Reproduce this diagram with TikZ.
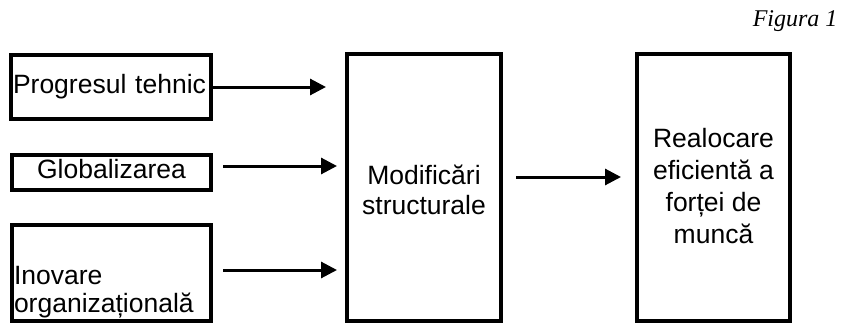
\documentclass[tikz,border=0pt]{standalone}
\usepackage{fontspec}
\setmainfont{Liberation Sans}
\newfontfamily\figfont{Liberation Serif}
\usetikzlibrary{arrows.meta,positioning}

\begin{document}
\begin{tikzpicture}[x=1pt,y=-1pt,
    box/.style={draw,line width=4pt,rectangle,inner sep=2pt},
    arr/.style={line width=3pt,-{Triangle[length=16pt,width=16pt]}},
    font=\fontsize{26.5}{30}\selectfont]
   \useasboundingbox (0,0) rectangle (848,324);
   \node[anchor=base east,font=\figfont\itshape\fontsize{24}{26}\selectfont] (fig) at (841,27) {Figura 1};
   % left column
   \node[box,minimum width=200pt,minimum height=64pt,text width=196pt,align=left,text height=19pt,text depth=7pt] (prog) at (111,87) {Progresul tehnic};
   \node[box,minimum width=199pt,minimum height=35pt,text height=19pt,text depth=8pt] (glob) at (111.5,172.5) {Globalizarea};
   \node[box,minimum width=199pt,minimum height=96pt,text width=195pt,align=left,text height=53pt,text depth=31pt] (inov) at (111.5,273) {Inovare\\[-2pt]organizațională};
   % middle and right
   \node[box,minimum width=154pt,minimum height=267pt,align=center,text height=55pt,text depth=2pt] (modif) at (424,187.5) {Modificări\\structurale};
   \node[box,minimum width=153pt,minimum height=267pt,align=center,text height=115pt,text depth=4pt] (realoc) at (713.5,187.5) {Realocare\\[2pt]eficientă a\\[2pt]forței de\\[2pt]muncă};
   % arrows
   \coordinate (g1) at ([shift={(10pt,6.5pt)}]glob.east);
   \coordinate (i1) at ([shift={(10pt,3pt)}]inov.east);
   \coordinate (m1) at ([shift={(13pt,10.5pt)}]modif.east);
   \draw[arr,shorten >=19pt] (prog.east) -- (prog.east -| modif.west);
   \draw[arr,shorten >=8pt] (g1) -- (g1 -| modif.west);
   \draw[arr,shorten >=8pt] (i1) -- (i1 -| modif.west);
   \draw[arr,shorten >=14pt] (m1) -- (m1 -| realoc.west);
\end{tikzpicture}
\end{document}
